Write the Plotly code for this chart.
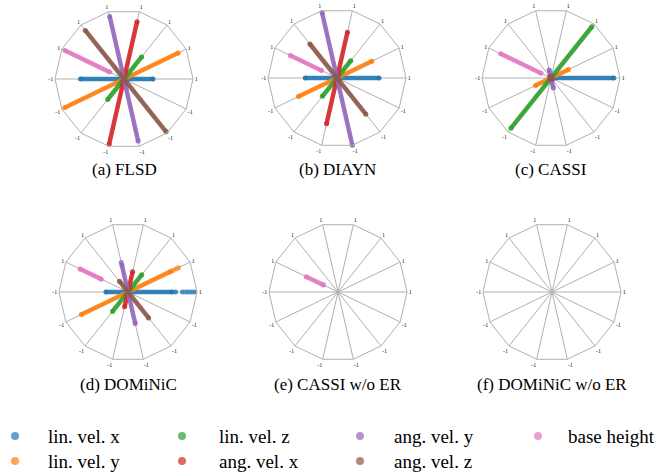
import plotly.graph_objects as go

W, H = 661, 476

dims = ["lin. vel. x", "lin. vel. y", "lin. vel. z", "ang. vel. x",
        "ang. vel. y", "ang. vel. z", "base height"]
colors = ["#1f77b4", "#ff7f0e", "#2ca02c", "#d62728", "#9467bd", "#8c564b", "#e377c2"]

methods = ["(a) FLSD", "(b) DIAYN", "(c) CASSI", "(d) DOMiNiC", "(e) CASSI w/o ER", "(f) DOMiNiC w/o ER"]

# [low, high] of each skill-space dimension, per method (order of dims)
flsd_low = [-0.63, -0.95, -0.38, -0.97, -0.92, -0.98, 0.23]
flsd_high = [0.42, 0.87, 0.41, 0.85, 0.93, 0.90, 0.95]
diayn_low = [-0.46, -0.62, -0.34, -0.68, -1.00, -0.67, 0.25]
diayn_high = [0.61, 0.56, 0.32, 0.68, 0.97, 0.63, 0.75]
cassi_low = [0.05, -0.25, -0.93, -0.03, -0.15, -0.03, 0.16]
cassi_high = [0.91, 0.28, 0.95, 0.03, 0.12, 0.03, 0.81]
dominic_low = [-0.32, -0.75, -0.36, -0.22, -0.47, -0.48, 0.43]
dominic_high = [0.64, 0.68, 0.32, 0.30, 0.40, 0.20, 0.77]
cassi_noer_low = [0.0, 0.0, 0.0, 0.0, 0.0, 0.0, 0.23]
cassi_noer_high = [0.0, 0.0, 0.0, 0.0, 0.0, 0.0, 0.51]
dominic_noer_low = [0.0, 0.0, 0.0, 0.0, 0.0, 0.0, 0.0]
dominic_noer_high = [0.0, 0.0, 0.0, 0.0, 0.0, 0.0, 0.0]

# sparse outlying samples (DOMiNiC)
dominic_blue_extra = [0.69, 0.79, 0.84, 0.88, 0.92, 0.96]
dominic_orange_extra = [0.72, 0.77, 0.81]
dominic_purple_extra = [0.44]

tick_pos = "1"
tick_neg = "-1"

lows = [flsd_low, diayn_low, cassi_low, dominic_low, cassi_noer_low, dominic_noer_low]
highs = [flsd_high, diayn_high, cassi_high, dominic_high, cassi_noer_high, dominic_noer_high]
extras = [{}, {}, {}, {0: dominic_blue_extra, 1: dominic_orange_extra, 4: dominic_purple_extra}, {}, {}]

# panel geometry (window pixels)
centers = [(124, 79), (337, 78), (551, 78), (128, 292), (338, 292), (552, 292)]
R = 69
title_y = [169, 169, 169, 384, 384, 384]

n_axes = len(dims)
pos_cats = [d + " +" for d in dims]
neg_cats = [d + " -" for d in dims]
cats = pos_cats + neg_cats


def px_x(x):
    return x / W


def px_y(y):
    return 1 - y / H


def to_polar(v, k):
    if v >= 0:
        return v, pos_cats[k]
    return -v, neg_cats[k]


fig = go.Figure()
annotations = []
layout_polars = {}

for p, name in enumerate(methods):
    pid = "polar" if p == 0 else f"polar{p + 1}"
    cx, cy = centers[p]
    layout_polars[pid] = dict(
        domain=dict(x=[px_x(cx - R), px_x(cx + R)], y=[px_y(cy + R), px_y(cy - R)]),
        gridshape="linear",
        bgcolor="white",
        angularaxis=dict(
            type="category", categoryorder="array", categoryarray=cats,
            tickmode="array", tickvals=cats,
            ticktext=[tick_pos] * n_axes + [tick_neg] * n_axes,
            rotation=0, direction="counterclockwise",
            showgrid=True, gridcolor="#b0b0b0", gridwidth=1,
            showline=True, linecolor="#b0b0b0", linewidth=1,
            ticks="", tickfont=dict(size=6, color="#222", family="Liberation Serif"),
        ),
        radialaxis=dict(range=[0, 1], showgrid=False, showticklabels=False,
                        showline=False, ticks=""),
    )
    # anchor trace so that every panel (even an empty one) is drawn
    fig.add_trace(go.Scatterpolar(
        r=[0], theta=[cats[0]], mode="markers", marker=dict(size=4, color="#777"),
        showlegend=False, subplot=pid, hoverinfo="skip"))
    for k in range(n_axes):
        lo, hi = lows[p][k], highs[p][k]
        if lo == 0 and hi == 0:
            continue
        vals = [lo, 0.0, hi] if lo < 0 < hi else [lo, hi]
        rs, ts = zip(*[to_polar(v, k) for v in vals])
        fig.add_trace(go.Scatterpolar(
            r=list(rs), theta=list(ts), mode="lines",
            line=dict(color=colors[k], width=4.5),
            opacity=0.9, showlegend=False, subplot=pid, hoverinfo="skip"))
        end_r, end_t = zip(*[to_polar(v, k) for v in [lo, hi]])
        fig.add_trace(go.Scatterpolar(
            r=list(end_r), theta=list(end_t), mode="markers",
            marker=dict(color=colors[k], size=5, line=dict(width=0)),
            opacity=0.9, showlegend=False, subplot=pid, hoverinfo="skip"))
        if k in extras[p]:
            er, et = zip(*[to_polar(v, k) for v in extras[p][k]])
            fig.add_trace(go.Scatterpolar(
                r=list(er), theta=list(et), mode="markers",
                marker=dict(color=colors[k], size=5, line=dict(width=0)),
                opacity=0.8, showlegend=False, subplot=pid, hoverinfo="skip"))
    annotations.append(dict(
        text=name, x=px_x(cx), y=px_y(title_y[p]), xref="paper", yref="paper",
        xanchor="center", yanchor="middle", showarrow=False,
        font=dict(family="Liberation Serif", size=17, color="black")))

# legend (manual, column-major as in the figure)
leg_marker_x = [15, 182, 360, 538]
leg_text_x = [46, 217, 392, 566]
leg_row_y = [436, 461]
shapes = []
for k, lab in enumerate(dims):
    col, row = k // 2, k % 2
    mx = px_x(leg_marker_x[col])
    my = px_y(leg_row_y[row])
    shapes.append(dict(type="circle", xref="paper", yref="paper",
                       xsizemode="pixel", ysizemode="pixel",
                       xanchor=mx, yanchor=my, x0=-4, x1=4, y0=-4, y1=4,
                       fillcolor=colors[k], opacity=0.7, line=dict(width=0)))
    annotations.append(dict(
        text=lab, x=px_x(leg_text_x[col]), y=my, xref="paper", yref="paper",
        xanchor="left", yanchor="middle", showarrow=False,
        font=dict(family="Liberation Serif", size=19, color="black")))

fig.update_layout(
    width=W, height=H, margin=dict(l=0, r=0, t=0, b=0),
    paper_bgcolor="white", plot_bgcolor="white",
    annotations=annotations, shapes=shapes, showlegend=False,
    **layout_polars)

fig.write_html("out.html", config={"displayModeBar": False, "staticPlot": True},
               post_script="document.body.style.margin='0px';document.body.style.overflow='hidden';")
